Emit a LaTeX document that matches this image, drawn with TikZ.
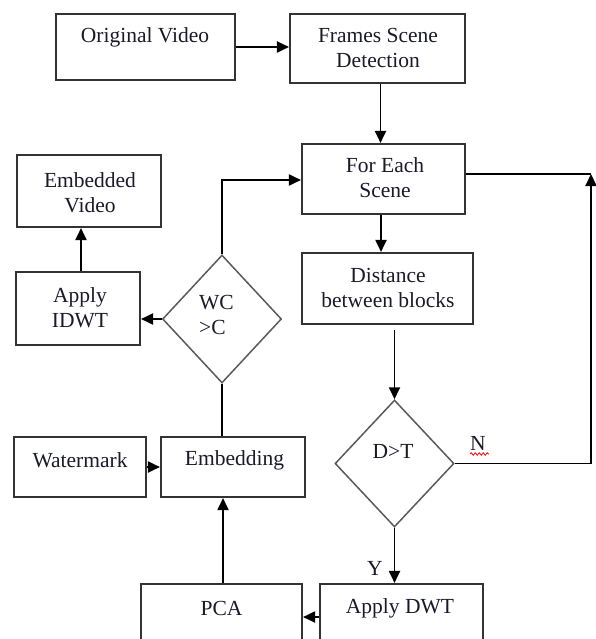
\documentclass[tikz,border=0pt]{standalone}
\usepackage{fontspec}
\setmainfont{Liberation Serif}
\usetikzlibrary{arrows.meta,shapes.geometric,decorations.pathmorphing}
\definecolor{boxline}{HTML}{333333}
\definecolor{dialine}{HTML}{5A5A5A}
\definecolor{txtcol}{HTML}{1A1A2A}
\tikzset{
  box/.style={draw=boxline, line width=2.1pt, rectangle, inner sep=0pt},
  dia/.style={draw=dialine, line width=1.5pt, diamond, inner sep=0pt},
  txt/.style={font=\fontsize{21.5pt}{25pt}\selectfont, text=txtcol, align=center, inner sep=0pt},
  conn/.style={draw=black, line width=1.9pt},
  arr/.style={conn, -{Triangle[length=12pt,width=11pt]}}
}
\begin{document}
\begin{tikzpicture}[x=1pt,y=-1pt]
\useasboundingbox (0,0) rectangle (595,639);
\fill[white] (0,0) rectangle (595,639);

% boxes
\node[box, minimum width=179pt, minimum height=66pt] (ov) at (145.5,47) {};
\node[box, minimum width=175pt, minimum height=69pt] (fsd) at (377.5,48.5) {};
\node[box, minimum width=163pt, minimum height=70pt] (fes) at (383.5,179) {};
\node[box, minimum width=144pt, minimum height=72pt] (ev) at (89,191) {};
\node[box, minimum width=124pt, minimum height=73pt] (idwt) at (78,308.5) {};
\node[box, minimum width=171pt, minimum height=71pt] (dist) at (387.5,288.5) {};
\node[box, minimum width=132pt, minimum height=60pt] (wm) at (80,467) {};
\node[box, minimum width=144pt, minimum height=60pt] (emb) at (233,467) {};
\node[box, minimum width=161pt, minimum height=66pt] (pca) at (221.5,617) {};
\node[box, minimum width=163pt, minimum height=66pt] (dwt) at (401.5,617) {};

% diamonds
\node[dia, minimum width=119pt, minimum height=128pt] (wcc) at (222,319) {};
\node[dia, minimum width=119pt, minimum height=127pt] (dt) at (394.5,463.5) {};

% texts
\node[txt] (tov) at (145,37) {Original Video};
\node[txt] (tfsd) at (378,47.5) {Frames Scene\\Detection};
\node[txt] (tfes) at (385,177.5) {For Each\\Scene};
\node[txt] (tev) at (90,192.5) {Embedded\\Video};
\node[txt] (tidwt) at (80,307.5) {Apply\\IDWT};
\node[txt] (tdist) at (388,288) {Distance\\between blocks};
\node[txt] (twm) at (80,460) {Watermark};
\node[txt] (temb) at (234.5,460) {Embedding};
\node[txt] (tpca) at (221.5,608) {PCA};
\node[txt] (tdwt) at (400,608) {Apply DWT};
\node[txt, align=left, anchor=west] (twcc) at (199,315) {WC\\>C};
\node[txt] (tdt) at (393,451) {D>T};
\node[txt] (tN) at (478,443) {N};
\node[txt] (tY) at (375,568) {Y};
\draw[red, line width=0.8pt, decorate, decoration={snake, amplitude=1.2pt, segment length=4pt}] (470,454) -- (489,454);

% connectors
\coordinate (cN) at (591,174);
\draw[arr] (ov.east) -- (ov.east -| fsd.west);
\draw[arr] ([xshift=3pt]fsd.south) -- ([xshift=3pt]fsd.south |- fes.north);
\draw[arr] ([xshift=-2.5pt]fes.south) -- ([xshift=-2.5pt]fes.south |- dist.north);
\draw[arr] ([yshift=-5pt]dt.north |- dist.south) -- (dt.north);
\draw[arr] (dt.south) -- (dt.south |- dwt.north);
\draw[arr] (dt.east) -| (cN);
\draw[conn] (fes.east |- cN) -- (cN);
\draw[arr] (dwt.west) -- (dwt.west -| pca.east);
\draw[arr] ([xshift=1.5pt]pca.north) -- ([xshift=1.5pt]pca.north |- emb.south);
\draw[arr] (wm.east) -- (wm.east -| emb.west);
\draw[conn] (wcc.south) -- (wcc.south |- emb.north);
\draw[arr] (wcc.west) -- (wcc.west -| idwt.east);
\draw[arr] ([xshift=3pt]idwt.north) -- ([xshift=3pt]idwt.north |- ev.south);
\draw[arr] (wcc.north) |- ([yshift=-1pt]fes.west);
\end{tikzpicture}
\end{document}
